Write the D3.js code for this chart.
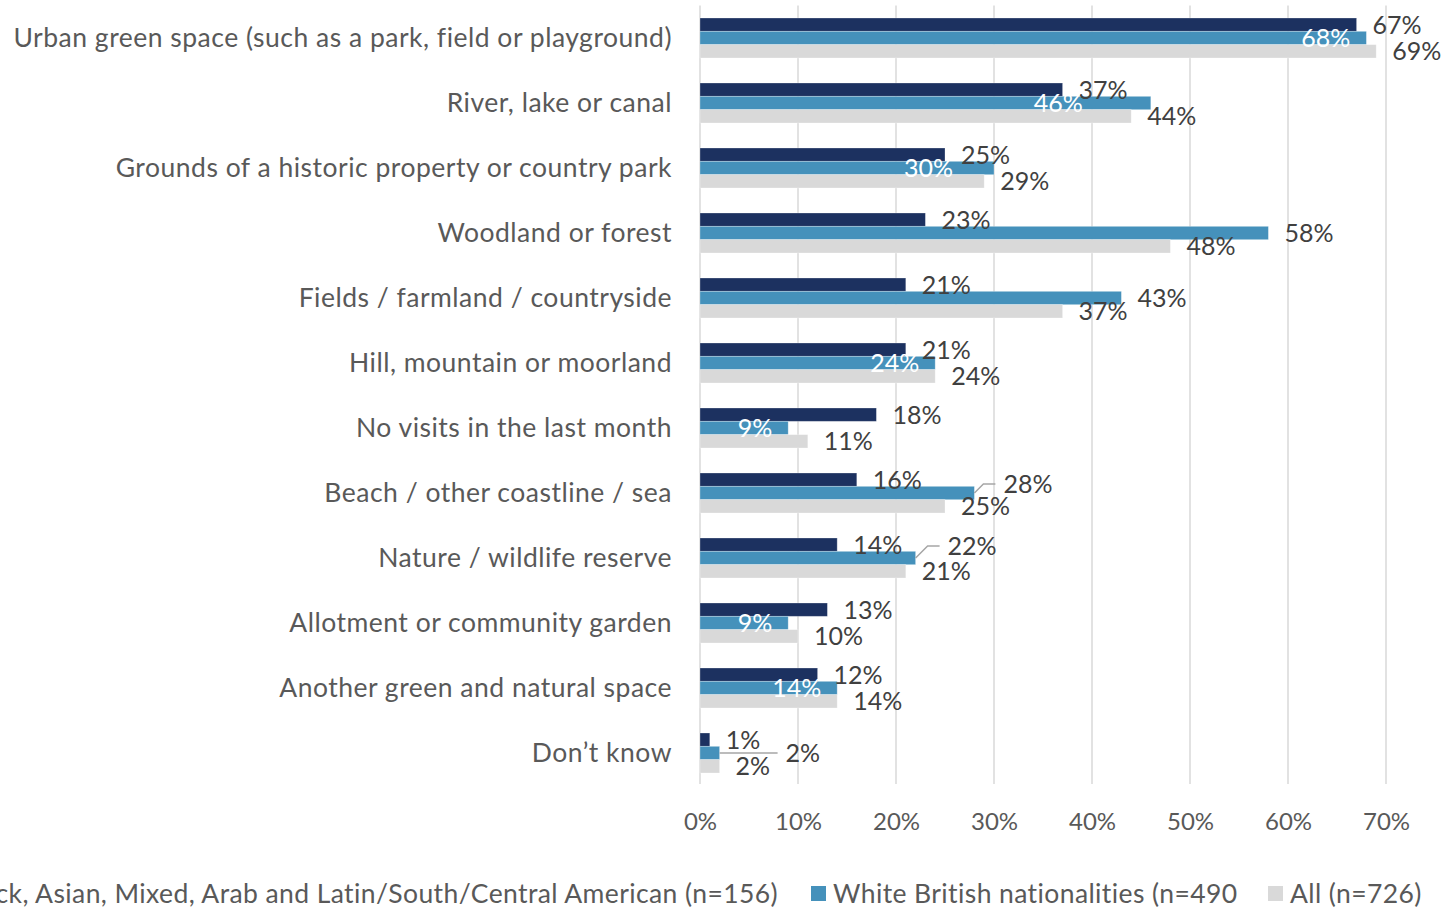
<!DOCTYPE html>
<html><head><meta charset="utf-8">
<script src="https://cdn.jsdelivr.net/npm/d3@7"></script>
<style>
html,body{margin:0;padding:0;background:#fff;}
svg{display:block;font-family:Lato,"Open Sans",sans-serif;}
</style></head>
<body>
<svg id="chart" width="1442" height="910"></svg>
<script>
// ---- data ----
const categories = [
  "Urban green space (such as a park, field or playground)",
  "River, lake or canal",
  "Grounds of a historic property or country park",
  "Woodland or forest",
  "Fields / farmland / countryside",
  "Hill, mountain or moorland",
  "No visits in the last month",
  "Beach / other coastline / sea",
  "Nature / wildlife reserve",
  "Allotment or community garden",
  "Another green and natural space",
  "Don\u2019t know"
];
const seriesNames = [
  "Black, Asian, Mixed, Arab and Latin/South/Central American (n=156)",
  "White British nationalities (n=490",
  "All (n=726)"
];
const minorityValues = [67, 37, 25, 23, 21, 21, 18, 16, 14, 13, 12, 1];
const whiteBritishValues = [68, 46, 30, 58, 43, 24, 9, 28, 22, 9, 14, 2];
const allValues = [69, 44, 29, 48, 37, 24, 11, 25, 21, 10, 14, 2];
const xTicks = [0, 10, 20, 30, 40, 50, 60, 70];

const seriesValues = [minorityValues, whiteBritishValues, allValues];
const colors = ["#1c3160", "#4591bb", "#d9d9d9"];

// ---- layout ----
const svg = d3.select("#chart");
const x = d3.scaleLinear().domain([0, 70]).range([700, 1386]);
const y = d3.scaleBand().domain(categories).range([5.5, 785.5]).paddingInner(25/65).paddingOuter(12.5/65);
const ys = d3.scaleBand().domain([0,1,2]).range([0, y.bandwidth()]);

// gridlines
svg.append("g").selectAll("line").data(xTicks).join("line")
  .attr("x1", d => x(d)).attr("x2", d => x(d))
  .attr("y1", 5.5).attr("y2", 784)
  .attr("stroke", "#d9d9d9").attr("stroke-width", 1.5);

// x axis (tick labels only)
const xAxis = d3.axisBottom(x).tickValues(xTicks).tickFormat(d => d + "%").tickSize(0).tickPadding(0);
const gx = svg.append("g").attr("transform", "translate(0,813)").call(xAxis);
gx.select(".domain").remove();
gx.selectAll("text").attr("fill", "#595959").attr("font-size", 24).attr("font-family", "Lato, sans-serif").attr("dy", "0.71em");

// y axis labels
const yAxis = d3.axisLeft(y).tickSize(0).tickPadding(28);
const gy = svg.append("g").attr("transform", "translate(700,1)").call(yAxis);
gy.select(".domain").remove();
gy.selectAll("text").attr("fill", "#595959").attr("font-size", 26.5)
  .attr("letter-spacing", "0.5px").attr("font-family", "Lato, sans-serif");

// bars
const rows = [];
categories.forEach((c, i) => seriesValues.forEach((vals, s) => rows.push({c, i, s, v: vals[i]})));
svg.append("g").selectAll("rect").data(rows).join("rect")
  .attr("x", x(0))
  .attr("y", d => y(d.c) + ys(d.s))
  .attr("width", d => x(d.v) - x(0))
  .attr("height", ys.bandwidth())
  .attr("fill", d => colors[d.s])
  .attr("stroke", "#ffffff").attr("stroke-opacity", 0.35).attr("stroke-width", 0.8);

// label adjustments for the White British series
const blueLabelMode = {
  0: {mode: "inside"},
  1: {mode: "inside", dx: -52},
  2: {mode: "inside", dx: -25},
  5: {mode: "inside"},
  6: {mode: "inside"},
  9: {mode: "inside"},
  10: {mode: "inside"},
  7: {mode: "outside", dx: 13, dy: -9, leader: true},
  8: {mode: "outside", dx: 16, dy: -12, leader: true},
  11: {mode: "outside", dx: 50, dy: 0, leader: true}
};

const lbl = svg.append("g").attr("font-size", 25).attr("font-family", "Lato, sans-serif");
rows.forEach(d => {
  const cy = y(d.c) + ys(d.s) + ys.bandwidth() / 2;
  const xe = x(d.v);
  let tx = xe + 16, ty = cy, anchor = "start", fill = "#404040";
  if (d.s === 1) {
    const m = blueLabelMode[d.i] || {mode: "outside"};
    if (m.mode === "inside") {
      tx = xe - 16 + (m.dx || 0); anchor = "end"; fill = "#ffffff";
    } else {
      tx = xe + 16 + (m.dx || 0); ty = cy + (m.dy || 0);
      if (m.leader) {
        const lx = tx - 8;
        let pts;
        if (m.dy) {
          pts = [[xe, cy], [xe + Math.abs(m.dy), ty], [lx, ty]];
        } else {
          pts = [[xe, cy], [lx, cy]];
        }
        svg.append("path").attr("d", d3.line()(pts)).attr("fill", "none")
          .attr("stroke", "#a6a6a6").attr("stroke-width", 1.5);
      }
    }
  }
  lbl.append("text").attr("x", tx).attr("y", ty).attr("dy", "0.36em")
    .attr("text-anchor", anchor).attr("fill", fill).text(d.v + "%");
});

// legend
const lg = svg.append("g").attr("font-size", 26.5).attr("letter-spacing", "0.4px")
  .attr("font-family", "Lato, sans-serif").attr("fill", "#595959");
const legendTextX = [null, 833, 1290];
// first item ends at 778
const t0 = lg.append("text").attr("x", 778).attr("y", 893).attr("dy", "0.36em").attr("text-anchor", "end").text(seriesNames[0]);
const w0 = t0.node().getComputedTextLength();
lg.append("rect").attr("x", 778 - w0 - 22).attr("y", 886).attr("width", 15).attr("height", 15).attr("fill", colors[0]);
[1, 2].forEach(s => {
  lg.append("rect").attr("x", legendTextX[s] - 22).attr("y", 886).attr("width", 15).attr("height", 15).attr("fill", colors[s]);
  lg.append("text").attr("x", legendTextX[s]).attr("y", 893).attr("dy", "0.36em").text(seriesNames[s]);
});
</script>
</body></html>
